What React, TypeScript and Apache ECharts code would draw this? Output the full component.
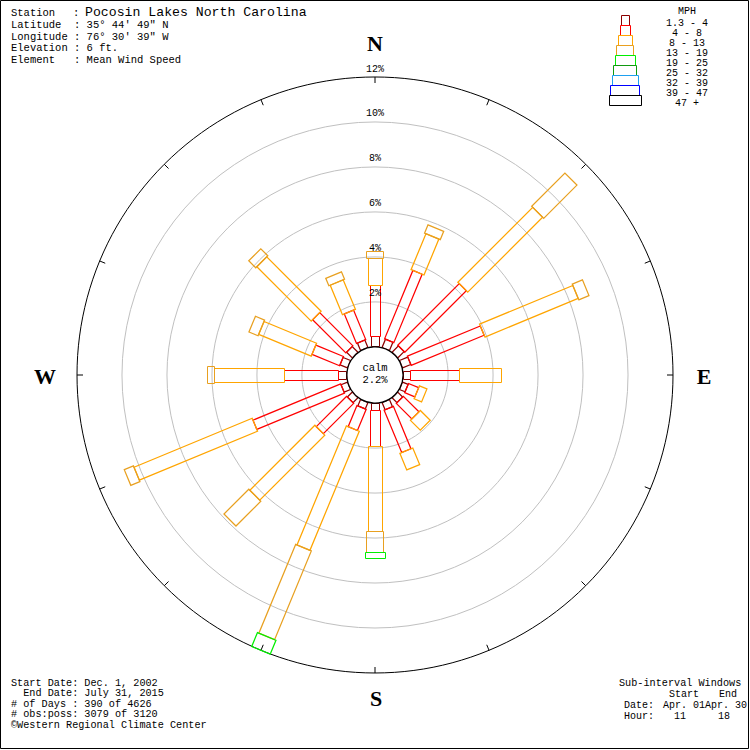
import { useEffect, useRef } from 'react';
import * as echarts from 'echarts';

// Wind directions (degrees clockwise from north)
const directions = ['N', 'NNE', 'NE', 'ENE', 'E', 'ESE', 'SE', 'SSE', 'S', 'SSW', 'SW', 'WSW', 'W', 'WNW', 'NW', 'NNW'];
const directionAngles = [0, 22.5, 45, 67.5, 90, 112.5, 135, 157.5, 180, 202.5, 225, 247.5, 270, 292.5, 315, 337.5];

// Speed classes (MPH)
const speedClasses = ['1.3 - 4', '4 - 8', '8 - 13', '13 - 19', '19 - 25', '25 - 32', '32 - 39', '39 - 47', '47 +'];

// Frequency (% of observations) per direction, one array per speed class
const pct1to4 = [0.44, 0.40, 0.40, 0.40, 0.31, 0.27, 0.31, 0.35, 0.31, 0.31, 0.31, 0.31, 0.36, 0.36, 0.36, 0.36];
const pct4to8 = [2.27, 3.29, 3.87, 3.51, 2.18, 0.49, 0.98, 2.04, 1.64, 1.02, 1.91, 4.22, 2.40, 1.33, 2.09, 1.42];
const pct8to13 = [1.24, 1.73, 4.71, 4.49, 1.87, 0.36, 0.62, 0.80, 3.78, 5.73, 4.09, 5.69, 3.11, 2.53, 3.42, 1.42];
const pct13to19 = [0.27, 0.40, 2.09, 0.49, 0, 0, 0, 0, 0.93, 4.27, 1.56, 0.44, 0.31, 0.44, 0.44, 0.36];
const pct19to25 = [0, 0, 0, 0, 0, 0, 0, 0, 0.27, 0.67, 0, 0, 0, 0, 0, 0];
const classValues = [pct1to4, pct4to8, pct8to13, pct13to19, pct19to25];

const calmPct = 2.2;
const gridPcts = [2, 4, 6, 8, 10, 12];

// Styling
const classColors = ['#8b0000', '#ff0000', '#ffa500', '#e8a020', '#00ee00', '#119911', '#1ea0f0', '#0000ff', '#000000'];
const classWidths = [8, 10, 14, 17, 20, 23, 26, 29, 32];
const RADIUS_MIN = -1.25; // room for the calm circle below 0 %
const RADIUS_MAX = 12;
const MONO = '"Liberation Mono", "DejaVu Sans Mono", monospace';

const headerLines = [
  ['Latitude  : 35\u00b0 44\' 49" N', 25],
  ['Longitude : 76\u00b0 30\' 39" W', 37],
  ['Elevation : 6 ft.', 48],
  ['Element   : Mean Wind Speed', 60],
];
const footerLines = [
  ['Start Date: Dec. 1, 2002', 683],
  ['  End Date: July 31, 2015', 693.5],
  ['# of Days : 390 of 4626', 704],
  ['# obs:poss: 3079 of 3120', 714.5],
  ['\u00a9Western Regional Climate Center', 725],
];

// crisp 1px strokes
const snap = (v: number) => Math.floor(v) + 0.5;

export default function App() {
  const ref = useRef<HTMLDivElement>(null);

  useEffect(() => {
    if (!ref.current) return;
    const chart = echarts.init(ref.current, null, { renderer: 'svg' });

    // stacked segments: [start %, end %, angle, class]
    const barData: number[][] = [];
    directionAngles.forEach((ang, d) => {
      let base = 0;
      classValues.forEach((arr, k) => {
        const v = arr[d];
        if (v > 0) {
          barData.push([base, base + v, ang, k]);
          base += v;
        }
      });
    });

    const txt = (text: string, x: number, y: number, size: number, extra: any = {}) => ({
      type: 'text',
      x,
      y,
      silent: true,
      style: { text, fontSize: size, fontFamily: MONO, fill: '#000', verticalAlign: 'middle', align: 'left', ...extra },
    });

    const graphics: any[] = [
      { type: 'rect', shape: { x: 0.5, y: 0.5, width: 748, height: 748 }, style: { fill: 'none', stroke: '#000', lineWidth: 1 } },
      txt('Station', 11, 13, 10.5),
      txt(':', 73, 13, 10.5),
      txt('Pocosin Lakes North Carolina', 85, 12, 13.2),
      ...headerLines.map(([t, y]) => txt(t as string, 11, y as number, 10.5)),
      ...footerLines.map(([t, y]) => txt(t as string, 11, y as number, 10.2)),
      txt('Sub-interval Windows', 619, 683, 10.2),
      txt('Start', 669, 694, 10),
      txt('End', 719, 694, 10),
      txt('Date:', 624, 705, 10),
      txt('Apr. 01Apr. 30', 663, 705, 10),
      txt('Hour:', 624, 716, 10),
      txt('11', 674, 716, 10),
      txt('18', 718, 716, 10),
      ...[
        ['N', 375, 43],
        ['E', 704, 376],
        ['S', 376, 698],
        ['W', 45, 376],
      ].map(([t, x, y]) => ({
        type: 'text',
        x,
        y,
        style: {
          text: t,
          fontSize: 22,
          fontWeight: 'bold',
          fontFamily: '"Liberation Serif", "DejaVu Serif", serif',
          fill: '#000',
          align: 'center',
          verticalAlign: 'middle',
        },
      })),
      txt('MPH', 687, 11, 10, { align: 'center' }),
      ...speedClasses.map((s, i) => ({
        type: 'rect',
        shape: { x: snap(625 - classWidths[i] / 2), y: 15.5 + 10 * i, width: classWidths[i], height: 10 },
        style: { fill: 'none', stroke: classColors[i], lineWidth: 1 },
      })),
      ...speedClasses.map((s, i) => txt(s, 687, 23 + 10 * i, 10, { align: 'center' })),
    ];

    chart.setOption({
      animation: false,
      polar: { center: [375, 375], radius: 298 },
      angleAxis: {
        type: 'value',
        min: 0,
        max: 360,
        interval: 22.5,
        startAngle: 90,
        clockwise: true,
        axisLine: { show: true, lineStyle: { color: '#000', width: 1 } },
        axisTick: { show: true, inside: true, length: 6, lineStyle: { color: '#000', width: 1 } },
        axisLabel: { show: false },
        splitLine: { show: false },
      },
      radiusAxis: {
        type: 'value',
        min: RADIUS_MIN,
        max: RADIUS_MAX,
        axisLine: { show: false },
        axisTick: { show: false },
        axisLabel: { show: false },
        splitLine: { show: false },
      },
      series: [
        {
          type: 'custom',
          coordinateSystem: 'polar',
          z: 1,
          silent: true,
          data: gridPcts.filter((v) => v < RADIUS_MAX).map((v) => [v, 0]),
          renderItem: (params: any, api: any) => {
            const cs = params.coordSys;
            const p = api.coord([api.value(0), 0]);
            const r = Math.hypot(p[0] - cs.cx, p[1] - cs.cy);
            return {
              type: 'circle',
              shape: { cx: cs.cx, cy: cs.cy, r },
              style: { fill: 'none', stroke: '#c0c0c0', lineWidth: 1 },
            };
          },
        },
        {
          type: 'custom',
          coordinateSystem: 'polar',
          z: 2,
          silent: true,
          encode: { radius: [0, 1], angle: 2 },
          data: barData,
          renderItem: (params: any, api: any) => {
            const r0 = api.value(0);
            const r1 = api.value(1);
            const ang = api.value(2);
            const k = api.value(3);
            const a = api.coord([r0, ang]);
            const b = api.coord([r1, ang]);
            let ux = b[0] - a[0];
            let uy = b[1] - a[1];
            const len = Math.hypot(ux, uy) || 1;
            ux /= len;
            uy /= len;
            const h = classWidths[k] / 2;
            const nx = -uy * h;
            const ny = ux * h;
            const axisAligned = Math.abs(ux) < 1e-6 || Math.abs(uy) < 1e-6;
            const pts = [
              [a[0] + nx, a[1] + ny],
              [b[0] + nx, b[1] + ny],
              [b[0] - nx, b[1] - ny],
              [a[0] - nx, a[1] - ny],
            ].map(([x, y]) => (axisAligned ? [snap(x), snap(y)] : [x, y]));
            return {
              type: 'polygon',
              shape: { points: pts },
              style: { fill: 'none', stroke: classColors[k], lineWidth: axisAligned ? 1 : 1.25 },
            };
          },
        },
        {
          type: 'custom',
          coordinateSystem: 'polar',
          z: 3,
          silent: true,
          data: [[0, 0, calmPct]],
          renderItem: (params: any, api: any) => {
            const cs = params.coordSys;
            const p = api.coord([api.value(0), 0]);
            const r = Math.hypot(p[0] - cs.cx, p[1] - cs.cy);
            return {
              type: 'group',
              children: [
                { type: 'circle', shape: { cx: cs.cx, cy: cs.cy, r }, style: { fill: '#fff', stroke: '#000', lineWidth: 1.3 } },
                { type: 'text', x: cs.cx, y: cs.cy - 7, style: { text: 'calm', fontSize: 10.5, fontFamily: MONO, fill: '#000', align: 'center', verticalAlign: 'middle' } },
                { type: 'text', x: cs.cx, y: cs.cy + 5, style: { text: api.value(2) + '%', fontSize: 10.5, fontFamily: MONO, fill: '#000', align: 'center', verticalAlign: 'middle' } },
              ],
            };
          },
        },
        {
          type: 'custom',
          coordinateSystem: 'polar',
          z: 4,
          silent: true,
          data: gridPcts.map((v) => [v, 0]),
          renderItem: (params: any, api: any) => {
            const v = api.value(0);
            const p = api.coord([v, 0]);
            return {
              type: 'text',
              x: p[0],
              y: p[1] - 8,
              style: { text: v + '%', fontSize: 10, fontFamily: MONO, fill: '#000', align: 'center', verticalAlign: 'middle' },
            };
          },
        },
      ],
      graphic: graphics,
    });

    return () => chart.dispose();
  }, []);

  return <div ref={ref} style={{ position: 'absolute', left: 0, top: 0, width: 750, height: 750, background: '#fff' }} />;
}
